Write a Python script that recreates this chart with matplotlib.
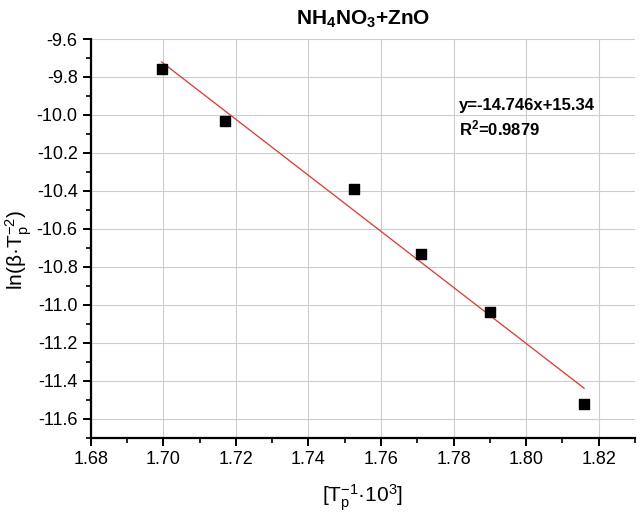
import matplotlib
matplotlib.use("Agg")
import matplotlib.pyplot as plt
from matplotlib.ticker import MultipleLocator
import numpy as np

plt.rcParams['font.family'] = ['Liberation Sans', 'DejaVu Sans']
plt.rcParams['mathtext.fontset'] = 'custom'
plt.rcParams['mathtext.rm'] = 'Liberation Sans'
plt.rcParams['mathtext.it'] = 'Liberation Sans:italic'
plt.rcParams['mathtext.bf'] = 'Liberation Sans:bold'

x_vals = [1.6995, 1.717, 1.7525, 1.771, 1.790, 1.816]
y_vals = [-9.76, -10.03, -10.39, -10.73, -11.04, -11.52]
slope = -14.746
intercept = 15.34
r2 = 0.9879

fig = plt.figure(figsize=(6.4, 5.2), dpi=100)
ax = fig.add_axes([0.142, 0.158, 0.850, 0.767])

ax.grid(True, which='major', color='#cccccc', linewidth=0.8)
ax.set_axisbelow(True)

xf = np.array([min(x_vals), max(x_vals)])
ax.plot(xf, slope * xf + intercept, color='#e8322c', linewidth=0.9, zorder=2)
ax.scatter(x_vals, y_vals, marker='s', s=55, color='black', zorder=3)

ax.set_xlim(1.68, 1.83)
ax.set_ylim(-11.7, -9.6)
ax.xaxis.set_minor_locator(MultipleLocator(0.01))
ax.yaxis.set_minor_locator(MultipleLocator(0.1))
ax.set_xticks([1.68, 1.70, 1.72, 1.74, 1.76, 1.78, 1.80, 1.82])
ax.set_xticklabels(['1.68', '1.70', '1.72', '1.74', '1.76', '1.78', '1.80', '1.82'])
ax.set_yticks([-9.6, -9.8, -10.0, -10.2, -10.4, -10.6, -10.8, -11.0, -11.2, -11.4, -11.6])
ax.set_yticklabels(['-9.6', '-9.8', '-10.0', '-10.2', '-10.4', '-10.6', '-10.8', '-11.0', '-11.2', '-11.4', '-11.6'])

for s in ['top', 'right']:
    ax.spines[s].set_visible(False)
for s in ['left', 'bottom']:
    ax.spines[s].set_linewidth(1.6)
ax.tick_params(which='major', direction='out', length=6, width=1.4, labelsize=13, colors='black')
ax.tick_params(which='minor', direction='out', length=3.5, width=1.2)

ax.set_title(r'NH$_\mathbf{4}$NO$_\mathbf{3}$+ZnO', fontsize=15, fontweight='bold', pad=10)
ax.set_xlabel(r'[T$_\mathrm{p}^{-1}$·10$^3$]', fontsize=15, labelpad=10)
fig.text(0.03, 0.52, r'ln(β·T$_\mathrm{p}^{-2}$)', fontsize=15, rotation=90,
         ha='center', va='center')

ax.text(1.7815, -9.975, 'y=-14.746x+15.34', fontsize=12, fontweight='bold')
ax.text(1.7815, -10.11, r'R$^\mathbf{2}$=0.9879', fontsize=12, fontweight='bold')

fig.savefig('out.png', dpi=100)
